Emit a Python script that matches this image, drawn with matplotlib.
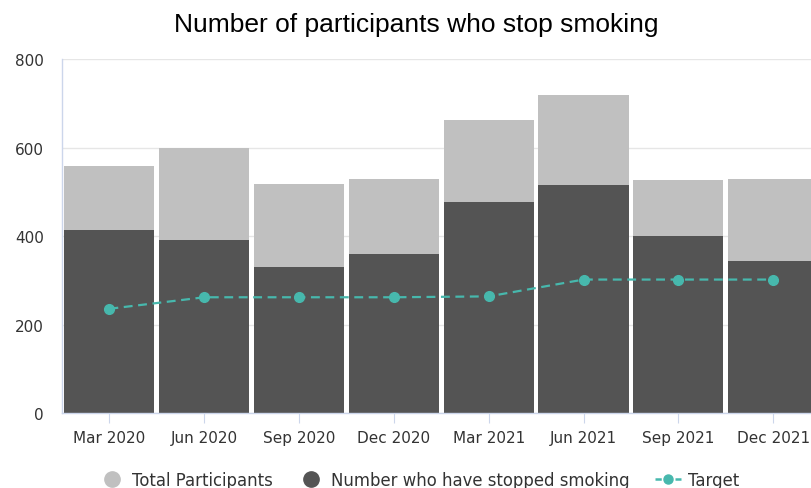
import numpy as np
import matplotlib.pyplot as plt
from matplotlib.lines import Line2D

quarters = ["Mar 2020", "Jun 2020", "Sep 2020", "Dec 2020",
            "Mar 2021", "Jun 2021", "Sep 2021", "Dec 2021"]
total = [558, 598, 517, 528, 662, 719, 526, 528]
stopped = [415, 392, 331, 360, 478, 515, 401, 345]
target = [236, 262, 262, 262, 264, 302, 302, 302]

light = "#c0c0c0"
dark = "#545454"
teal = "#47b8ad"
axcol = "#ccd6eb"

plt.rcParams['font.family'] = ['DejaVu Sans']

fig = plt.figure(figsize=(8.11, 4.89), dpi=100)
ax = fig.add_axes([62/811, 74.7/489, 758.6/811, 354.3/489])

x = np.arange(len(quarters))
ax.bar(x, total, width=0.95, color=light, zorder=2)
ax.bar(x, stopped, width=0.95, color=dark, zorder=3)
ax.plot(x, target, color=teal, linestyle=(0, (4, 2.5)), linewidth=1.6,
        marker='o', markersize=7, zorder=4)

ax.set_xlim(-0.5, 7.5)
ax.set_ylim(0, 800)
ax.set_yticks([0, 200, 400, 600, 800])
ax.set_xticks(x)
ax.set_xticklabels(quarters)
ax.grid(axis='y', color='#e6e6e6', linewidth=1, zorder=0)
ax.set_axisbelow(True)

for s in ['top', 'right']:
    ax.spines[s].set_visible(False)
for s in ['left', 'bottom']:
    ax.spines[s].set_color(axcol)
    ax.spines[s].set_linewidth(1)
    ax.spines[s].set_zorder(5)

ax.tick_params(axis='x', length=7, color=axcol, labelsize=11, pad=5, labelcolor='#333333')
ax.tick_params(axis='y', length=0, labelsize=11, pad=13, labelcolor='#333333')

fig.text(416/811, 1 - 25/489, "Number of participants who stop smoking",
         ha='center', va='center', fontsize=19, family='Liberation Sans')

handles = [
    Line2D([], [], linestyle='none', marker='o', markersize=11, color=light),
    Line2D([], [], linestyle='none', marker='o', markersize=11, color=dark),
    Line2D([], [], color=teal, linestyle=(0, (2.5, 1.5)), linewidth=1.8,
           marker='o', markersize=6.5),
]
labels = ["Total Participants", "Number who have stopped smoking", "Target"]
fig.legend(handles, labels, loc='center', bbox_to_anchor=(419/811, 1 - 481/489),
           ncol=3, frameon=False, fontsize=11.9, handlelength=1.56,
           handletextpad=0.42, columnspacing=1.55, labelcolor='#333333',
           borderpad=0, borderaxespad=0)

fig.savefig("out.png", dpi=100)
